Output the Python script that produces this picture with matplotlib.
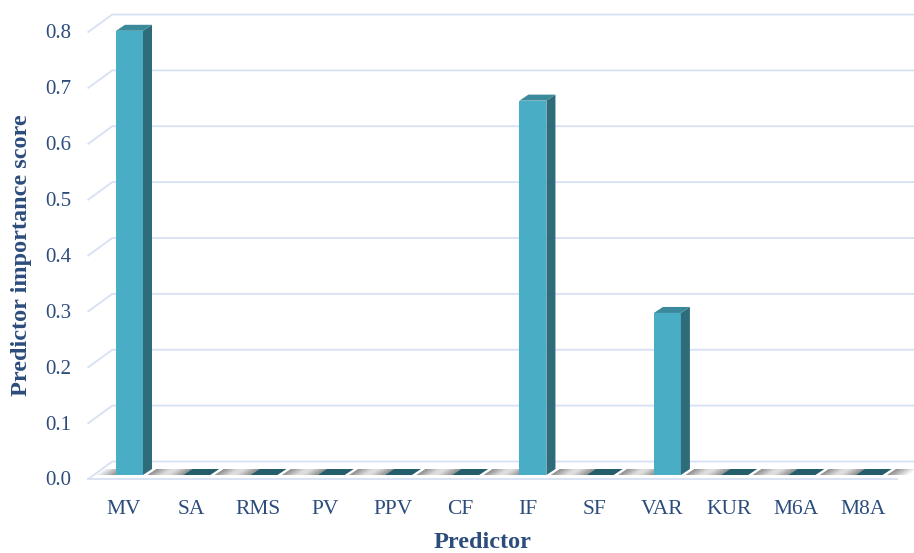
import matplotlib.pyplot as plt
from matplotlib.patches import Polygon
from matplotlib.transforms import offset_copy

predictors = ['MV', 'SA', 'RMS', 'PV', 'PPV', 'CF', 'IF', 'SF', 'VAR', 'KUR', 'M6A', 'M8A']
importance = [0.795, 0, 0, 0, 0, 0, 0.67, 0, 0.29, 0, 0, 0]
yticks = [0.0, 0.1, 0.2, 0.3, 0.4, 0.5, 0.6, 0.7, 0.8]

FRONT = '#4AADC6'
SIDE = '#2F6C79'
TOP = '#3A8A9B'
FLAT = '#245E6A'
GRID = '#D6E1F3'
TEXT = '#2C4C7C'

plt.rcParams['font.family'] = ['Liberation Serif', 'DejaVu Serif']

fig = plt.figure(figsize=(9.14, 5.53), dpi=100)
ax = fig.add_axes([0.1027, 0.14105, 0.8850, 0.80832])
ax.set_xlim(-0.53, 11.5)
ax.set_ylim(0, 0.8)
ax.axis('off')

# pixel -> data scale, so the 3D offsets can be given in pixels
p0 = ax.transData.transform((0, 0))
p1 = ax.transData.transform((1, 1))
sx, sy = p1[0] - p0[0], p1[1] - p0[1]

def d(px, py):
    return px / sx, py / sy

fdx, fdy = d(-5.6, -4.0)    # floor front edge
bdx, bdy = d(18.4, 13.5)    # back wall
ddx, ddy = d(9.0, 6.0)      # bar depth
bw = 27.0 / sx              # bar front width
xl, xr = -0.53, 11.5

# perspective gridlines: front-left corner -> back wall -> right
for v in yticks:
    ax.plot([xl + fdx, xl + bdx, xr + bdx], [v + fdy, v + bdy, v + bdy],
            color=GRID, lw=1.3, clip_on=False, zorder=1, solid_joinstyle='miter')
    ax.text(xl + fdx, v + fdy, f'{v:.1f}', ha='right', va='center', fontsize=15,
            color=TEXT, transform=offset_copy(ax.transData, fig, x=-17, y=-2, units='dots'))
ax.plot([xl + fdx, xr + fdx], [fdy, fdy], color=GRID, lw=1.3, clip_on=False, zorder=1)

# soft shadows on the floor either side of each bar
n_steps = 16
shadow_w = 21.0 / sx
for i in range(len(predictors)):
    x0, x1 = i - bw / 2, i + bw / 2
    for k in range(n_steps):
        a = 0.8 * (1 - k / n_steps) ** 1.2
        s0, s1 = k * shadow_w / n_steps, (k + 1) * shadow_w / n_steps
        for xa, xb in ((x0 - s1, x0 - s0), (x1 + s0 + ddx * 0.5, x1 + s1 + ddx * 0.5)):
            ax.add_patch(Polygon([(xa, 0), (xb, 0), (xb + ddx, ddy), (xa + ddx, ddy)],
                                 closed=True, facecolor='#5a5a5a', edgecolor='none',
                                 alpha=a, clip_on=False, zorder=2))

# bars
for i, v in enumerate(importance):
    x0, x1 = i - bw / 2, i + bw / 2
    if v > 0:
        ax.bar(i, v, width=bw, color=FRONT, zorder=3, clip_on=False)
        ax.add_patch(Polygon([(x1, 0), (x1, v), (x1 + ddx, v + ddy), (x1 + ddx, ddy)],
                             closed=True, facecolor=SIDE, edgecolor='none', zorder=3, clip_on=False))
        ax.add_patch(Polygon([(x0, v), (x1, v), (x1 + ddx, v + ddy), (x0 + ddx, v + ddy)],
                             closed=True, facecolor=TOP, edgecolor='none', zorder=3, clip_on=False))
    else:
        ax.add_patch(Polygon([(x0, 0), (x1, 0), (x1 + ddx, ddy), (x0 + ddx, ddy)],
                             closed=True, facecolor=FLAT, edgecolor='none', zorder=3, clip_on=False))
    ax.text(i + fdx, fdy, predictors[i], ha='center', va='center', fontsize=15.5, color=TEXT,
            transform=offset_copy(ax.transData, fig, x=0, y=-31, units='dots'))

fig.text(482 / 914, 1 - 543 / 553, 'Predictor', ha='center', va='center',
         fontsize=17.5, fontweight='bold', color=TEXT)
fig.text(22 / 914, 1 - 255 / 553, 'Predictor importance score', ha='center', va='center',
         rotation=90, fontsize=17.5, fontweight='bold', color=TEXT)

fig.savefig('out.png', dpi=100)
